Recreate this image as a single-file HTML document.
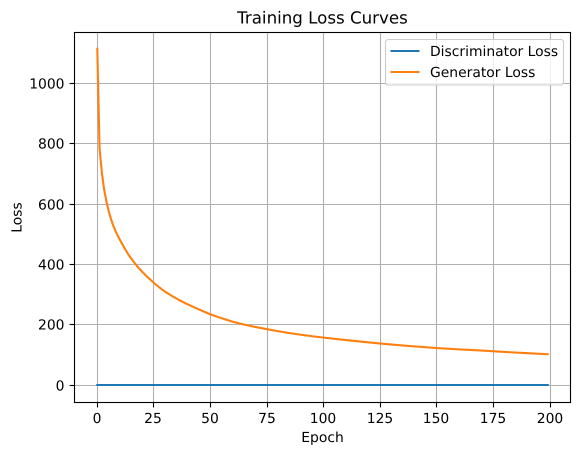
<!DOCTYPE html>
<html>
<head>
<meta charset="utf-8">
<style>
html,body{margin:0;padding:0;background:#fff;width:580px;height:455px;overflow:hidden}
svg{display:block}
text{font-family:"DejaVu Sans",sans-serif;fill:#000;text-rendering:geometricPrecision}
</style>
</head>
<body>
<svg id="chart" width="580" height="455" viewBox="0 0 580 455" xmlns="http://www.w3.org/2000/svg"></svg>
<script>
const xTicks = [0, 25, 50, 75, 100, 125, 150, 175, 200];
const yTicks = [0, 200, 400, 600, 800, 1000];
const epochs = [0, 1, 2, 3, 4, 5, 6, 7, 8, 9, 10, 12, 14, 16, 18, 20, 22, 24, 26, 28, 30, 33, 36, 40, 45, 50, 55, 60, 65, 70, 75, 80, 85, 90, 95, 100, 110, 120, 130, 140, 150, 160, 170, 180, 190, 199];
const discriminatorLoss = [1, 1, 1, 1, 1, 1, 1, 1, 1, 1, 1, 1, 1, 1, 1, 1, 1, 1, 1, 1, 1, 1, 1, 1, 1, 1, 1, 1, 1, 1, 1, 1, 1, 1, 1, 1, 1, 1, 1, 1, 1, 1, 1, 1, 1, 1];
const generatorLoss = [1115, 785, 705, 650, 610, 578, 552, 530, 512, 496, 482, 455, 430, 410, 391, 375, 360, 346, 333, 321, 310, 296, 283, 268, 251, 235, 222, 210, 201, 193, 186, 179, 173, 167.5, 162.5, 158, 150, 142, 135, 129, 123.5, 119, 115, 110.5, 106.5, 103];
const chartTitle = 'Training Loss Curves';
const xLabel = 'Epoch';
const yLabel = 'Loss';

const NS = 'http://www.w3.org/2000/svg';
const svg = document.getElementById('chart');
const box = { left: 74.5, right: 570.5, top: 32.5, bottom: 402.5 };
const xScale = v => 97.3 + v * 2.2635;
const yScale = v => 385.3 - v * 0.3018;
const snap = v => Math.floor(v) + 0.5;

function make(tag, attrs, text) {
  const el = document.createElementNS(NS, tag);
  for (const k in attrs) el.setAttribute(k, attrs[k]);
  if (text !== undefined) el.textContent = text;
  svg.appendChild(el);
  return el;
}

xTicks.forEach(t => {
  const x = snap(xScale(t));
  const g = make('line', { x1: x, x2: x, y1: box.top, y2: box.bottom, stroke: '#b0b0b0', 'stroke-width': 1.1 });
  
  
});
yTicks.forEach(t => {
  const y = snap(yScale(t));
  const g = make('line', { x1: box.left, x2: box.right, y1: y, y2: y, stroke: '#b0b0b0', 'stroke-width': 1.1 });
  
  
});

function linePath(xs, ys) {
  return xs.map((v, i) => (i ? 'L' : 'M') + xScale(v).toFixed(2) + ' ' + yScale(ys[i]).toFixed(2)).join(' ');
}
const discLine = make('path', { d: linePath(epochs, discriminatorLoss), fill: 'none', stroke: '#1f77b4', 'stroke-width': 2.08, 'stroke-linecap': 'square', 'stroke-linejoin': 'round' });


const genLine = make('path', { d: linePath(epochs, generatorLoss), fill: 'none', stroke: '#ff7f0e', 'stroke-width': 2.08, 'stroke-linecap': 'square', 'stroke-linejoin': 'round' });



const frame = make('rect', { x: box.left, y: box.top, width: box.right - box.left, height: box.bottom - box.top, fill: 'none', stroke: '#000', 'stroke-width': 1.1 });



xTicks.forEach(t => {
  const x = snap(xScale(t));
  const m = make('line', { x1: x, x2: x, y1: box.bottom, y2: box.bottom + 4.9, stroke: '#000', 'stroke-width': 1.1 });
  
  
  const l = make('text', { x: x - 0.5, y: 423, 'font-size': 13.89, 'text-anchor': 'middle' }, String(t));
  
  
});
yTicks.forEach(t => {
  const y = snap(yScale(t));
  const m = make('line', { x1: box.left - 4.9, x2: box.left, y1: y, y2: y, stroke: '#000', 'stroke-width': 1.1 });
  
  
  const l = make('text', { x: 64.5, y: y + 5, 'font-size': 13.89, 'text-anchor': 'end' }, String(t));
  
  
});

const titleEl = make('text', { x: 322.5, y: 23.5, 'font-size': 16.67, 'text-anchor': 'middle' }, chartTitle);


const xt = make('text', { x: 322.5, y: 442, 'font-size': 13.89, 'text-anchor': 'middle' }, xLabel);


const yt = make('text', { x: 0, y: 0, 'font-size': 13.89, 'text-anchor': 'middle', transform: 'translate(21.5 217.5) rotate(-90)' }, yLabel);



const legendBox = make('rect', { x: 385.5, y: 39.5, width: 178, height: 45.5, rx: 2.8, fill: '#fff', 'fill-opacity': 0.8, stroke: '#ccc', 'stroke-width': 1.1 });


const legendEntries = [['Discriminator Loss', '#1f77b4', 51], ['Generator Loss', '#ff7f0e', 72]];
legendEntries.forEach(e => {
  const s = make('line', { x1: 390.5, x2: 419.5, y1: e[2], y2: e[2], stroke: e[1], 'stroke-width': 2.08 });
  
  
  const l = make('text', { x: 430, y: e[2] + 5, 'font-size': 13.89 }, e[0]);
  
  
});
</script>
</body>
</html>
